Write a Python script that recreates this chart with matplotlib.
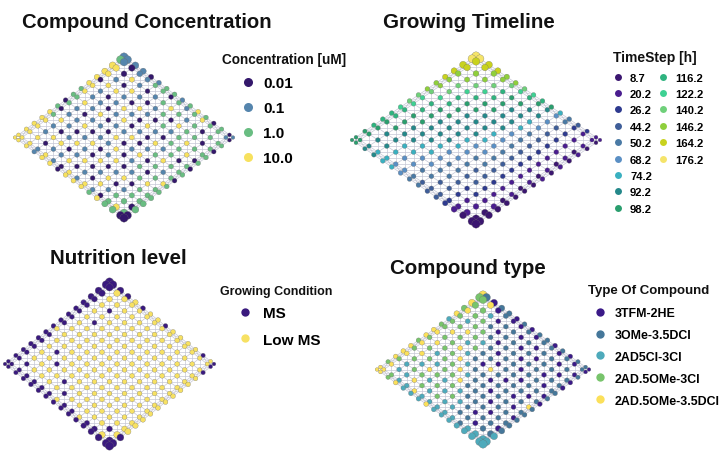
import numpy as np
import matplotlib
matplotlib.use('Agg')
import matplotlib.pyplot as plt
from matplotlib.collections import LineCollection
from matplotlib.lines import Line2D

plt.rcParams['font.family'] = ['Liberation Sans', 'DejaVu Sans']

W, H = 728, 456
N = 16  # SOM grid is N x N

# ---- data: one string per grid row, one character per node (category index) ----
conc_labels = ['0.01', '0.1', '1.0', '10.0']
conc_colors = ['#34186b', '#5585ad', '#69bd82', '#f7e15e']
conc_grid = [
    '1111012212320201',
    '2101122021232210',
    '3303101232120222',
    '3310310120322020',
    '3033103102123222',
    '3310131031022302',
    '2311013010312020',
    '2231301130123222',
    '0210110301302120',
    '2011301130120232',
    '3231013013012322',
    '3310131030130222',
    '3313301301301222',
    '3330113010312202',
    '3331310313102320',
    '3331330333232200',
]

time_labels = ['8.7', '20.2', '26.2', '44.2', '50.2', '68.2', '74.2', '92.2', '98.2',
               '116.2', '122.2', '140.2', '146.2', '164.2', '176.2']
time_colors = ['#3b1670', '#4a1d8f', '#2e3a8f', '#3f5e99', '#4a7aa5', '#5a8fc4',
               '#3ab0c0', '#24888a', '#2a9e6e', '#2fb37f', '#3ed193', '#6fd07a',
               '#8fcf3c', '#c8d21e', '#f5e46a']
time_grid = [
    'eeddccba98643211',
    'eddccba987542110',
    'ddccb98877532110',
    'dccba98776532101',
    'dcba988776432110',
    'ccb9887775432101',
    'cba9877765432110',
    'ba98877765432101',
    'ba98777655432110',
    'a988777654432100',
    '9987776554332110',
    '9887766544332100',
    '9877665544322110',
    '8877655443321100',
    '8876655433321100',
    '8877665443321000',
]

nutr_labels = ['MS', 'Low MS']
nutr_colors = ['#3a1a7e', '#f7e163']
nutr_grid = [
    '0000101101111010',
    '0011111111111110',
    '0011111111111110',
    '0010111111111111',
    '0011111111111111',
    '0010111111111111',
    '0011111111111111',
    '0011111111111111',
    '0111111111111111',
    '0011111111111111',
    '0010111111111111',
    '0011011111111111',
    '0011110111111111',
    '0001111011111010',
    '0000000100100100',
    '0000000000000000',
]

type_labels = ['3TFM-2HE', '3OMe-3.5DCl', '2AD5Cl-3Cl', '2AD.5OMe-3Cl', '2AD.5OMe-3.5DCl']
type_colors = ['#3b1a88', '#45779a', '#4eaabb', '#78c46c', '#fbe05a']
type_grid = [
    '4101101011010110',
    '3340100101101010',
    '4332011010110101',
    '3433101101011010',
    '4323310110110110',
    '2334321011011011',
    '3343231101101101',
    '4433421041011010',
    '4343342110110141',
    '3432334211011011',
    '4343233411101101',
    '4432432321110111',
    '4323323232101101',
    '3422432322110112',
    '4432242222212222',
    '4434222422222222',
]

# ---- lattice layout (diamond, outer rows squeezed) ----
gaps = np.ones(N - 1)
gaps[0] = gaps[-1] = 0.45
t = np.concatenate([[0], np.cumsum(gaps)])
t = t / t[-1]
ii, jj = np.meshgrid(np.arange(N), np.arange(N), indexing='ij')
xs = (t[jj] - t[ii]).ravel()
ys = (1 - t[ii] - t[jj]).ravel()
sz = (12 + 24 * np.clip((np.abs(ys) - 0.6) / 0.4, 0, 1) ** 2
      - 5 * np.clip((np.abs(xs) - 0.7) / 0.3, 0, 1) ** 2)

segs = []
for i in range(N):
    for j in range(N):
        k = i * N + j
        for di, dj in [(1, 0), (0, 1), (1, 1), (1, -1)]:
            a, b = i + di, j + dj
            if 0 <= a < N and 0 <= b < N:
                m = a * N + b
                segs.append([(xs[k], ys[k]), (xs[m], ys[m])])

fig = plt.figure(figsize=(W / 100, H / 100), dpi=100)


def draw_panel(box, grid, colors):
    x0, x1, yt, yb = box
    ax = fig.add_axes([x0 / W, 1 - yb / H, (x1 - x0) / W, (yb - yt) / H])
    ax.set_xlim(-1, 1)
    ax.set_ylim(-1, 1)
    ax.axis('off')
    codes = np.array([int(ch, 16) for row in grid for ch in row])
    ax.add_collection(LineCollection(segs, colors='#c6c7d6', linewidths=0.5, zorder=1))
    ax.scatter(xs, ys, s=sz, c=np.array(colors)[codes], edgecolors='#6a6a6a',
               linewidths=0.2, zorder=2, clip_on=False)
    return ax


def add_legend(labels, colors, x, y, fs, ms, pad, spacing, ncol=1, colsp=1.0):
    handles = [Line2D([], [], ls='', marker='o', color=c, markersize=ms, markeredgewidth=0)
               for c in colors]
    labels = list(labels)
    if ncol == 2:
        rows = (len(labels) + 1) // 2 + 1
        while len(handles) < 2 * rows:
            handles.append(Line2D([], [], ls='', marker=''))
            labels.append('')
    fig.legend(handles, labels, loc='upper left', bbox_to_anchor=(x / W, 1 - y / H),
               bbox_transform=fig.transFigure, frameon=False, ncol=ncol,
               prop={'weight': 'bold', 'size': fs}, handlelength=0.8,
               handletextpad=pad, labelspacing=spacing, borderpad=0,
               borderaxespad=0, columnspacing=colsp)


def px_text(x, y, s, size):
    fig.text(x / W, 1 - y / H, s, ha='left', va='center', fontsize=size,
             fontweight='bold', color='#111111')


draw_panel((15, 233, 58, 219), conc_grid, conc_colors)
draw_panel((352, 600, 57, 225), time_grid, time_colors)
draw_panel((5, 214, 283, 447), nutr_grid, nutr_colors)
draw_panel((377, 589, 296, 445), type_grid, type_colors)

px_text(22, 22, 'Compound Concentration', 14.6)
px_text(383, 22, 'Growing Timeline', 14.8)
px_text(50, 258, 'Nutrition level', 14.8)
px_text(390, 268, 'Compound type', 14.8)

px_text(222, 60, 'Concentration [uM]', 9.8)
px_text(613, 58, 'TimeStep [h]', 10)
px_text(220, 292, 'Growing Condition', 9)
px_text(588, 291, 'Type Of Compound', 9.5)

add_legend(conc_labels, conc_colors, 242, 77, 11, 6.5, 0.58, 0.72)
add_legend(time_labels, time_colors, 613.5, 73.5, 8.1, 5, 0.67, 0.57, ncol=2, colsp=0.58)
add_legend(nutr_labels, nutr_colors, 239, 307, 11, 6, 0.78, 0.82)
add_legend(type_labels, type_colors, 595, 308, 8.9, 6, 0.8, 0.8)

fig.savefig('out.png', dpi=100)
